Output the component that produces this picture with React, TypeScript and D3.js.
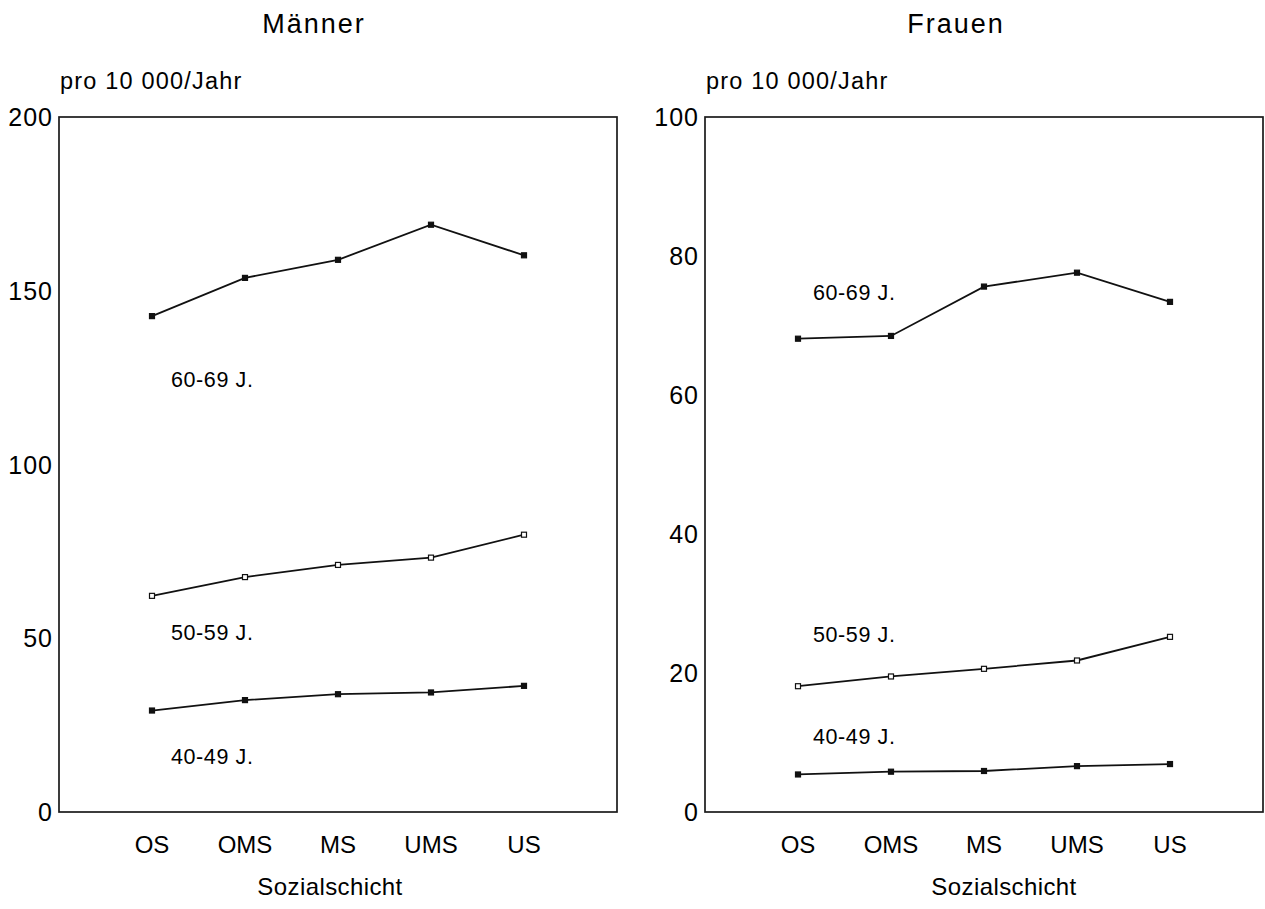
import React from "react";
import * as d3 from "d3";

const categories = ["OS", "OMS", "MS", "UMS", "US"];
const groups = ["60-69 J.", "50-59 J.", "40-49 J."];

const maennerValues = [
  [142.7, 153.7, 158.9, 169.0, 160.2],
  [62.2, 67.6, 71.1, 73.2, 79.8],
  [29.2, 32.2, 33.9, 34.4, 36.3],
];
const frauenValues = [
  [68.1, 68.5, 75.6, 77.6, 73.4],
  [18.1, 19.5, 20.6, 21.8, 25.2],
  [5.4, 5.8, 5.9, 6.6, 6.9],
];
// label anchor values (y in data units)
const maennerLabelY = [124.3, 51.5, 15.8];
const frauenLabelY = [74.7, 25.5, 10.8];
const maennerTicks = [0, 50, 100, 150, 200];
const frauenTicks = [0, 20, 40, 60, 80, 100];
const hollow = [false, true, false];

const FONT = "'Liberation Sans', Arial, Helvetica, sans-serif";

type PanelProps = {
  x0: number;
  x1: number;
  title: string;
  titleX: number;
  axisTitleX: number;
  yMax: number;
  ticks: number[];
  values: number[][];
  labelY: number[];
  labelDx: number;
};

function Panel({ x0, x1, title, titleX, axisTitleX, yMax, ticks, values, labelY, labelDx }: PanelProps) {
  const top = 117;
  const bottom = 812;
  const x = d3.scalePoint<string>().domain(categories).range([x0, x1]).padding(1);
  const y = d3.scaleLinear().domain([0, yMax]).range([bottom, top]);
  const line = d3
    .line<number>()
    .x((_, i) => x(categories[i]) as number)
    .y((d) => y(d));
  return (
    <g fontFamily={FONT} fill="#000">
      <text x={titleX} y={33} fontSize={27} letterSpacing={2} textAnchor="middle">
        {title}
      </text>
      <text x={x0 + 1} y={89} fontSize={23.5} letterSpacing={1.2}>
        pro 10 000/Jahr
      </text>
      <rect x={x0} y={top} width={x1 - x0} height={bottom - top} fill="none" stroke="#1a1a1a" strokeWidth={1.7} />
      {ticks.map((t) => (
        <text key={t} x={x0 - 6} y={y(t)} fontSize={25} letterSpacing={1} textAnchor="end" dominantBaseline="central">
          {t}
        </text>
      ))}
      {categories.map((c) => (
        <text key={c} x={x(c)} y={853} fontSize={24} textAnchor="middle">
          {c}
        </text>
      ))}
      <text x={axisTitleX} y={895} fontSize={24} letterSpacing={0.4} textAnchor="middle">
        Sozialschicht
      </text>
      {values.map((vals, gi) => (
        <g key={gi}>
          <path d={line(vals) || ""} fill="none" stroke="#111" strokeWidth={1.8} />
          {vals.map((v, i) => (
            <rect
              key={i}
              x={(x(categories[i]) as number) - 2.5}
              y={y(v) - 2.5}
              width={5}
              height={5}
              fill={hollow[gi] ? "#fff" : "#111"}
              stroke="#111"
              strokeWidth={1.2}
            />
          ))}
          <text
            x={(x(categories[0]) as number) + labelDx}
            y={y(labelY[gi])}
            fontSize={21.5}
            letterSpacing={0.6}
            dominantBaseline="central"
          >
            {groups[gi]}
          </text>
        </g>
      ))}
    </g>
  );
}

export default function App() {
  return (
    <svg
      width={1265}
      height={909}
      style={{ position: "absolute", left: 0, top: 0, background: "#fff" }}
    >
      <rect width={1265} height={909} fill="#fff" />
      <Panel
        x0={59}
        x1={617}
        title="Männer"
        titleX={314}
        axisTitleX={330}
        yMax={200}
        ticks={maennerTicks}
        values={maennerValues}
        labelY={maennerLabelY}
        labelDx={19}
      />
      <Panel
        x0={705}
        x1={1263}
        title="Frauen"
        titleX={956}
        axisTitleX={1004}
        yMax={100}
        ticks={frauenTicks}
        values={frauenValues}
        labelY={frauenLabelY}
        labelDx={15}
      />
    </svg>
  );
}
